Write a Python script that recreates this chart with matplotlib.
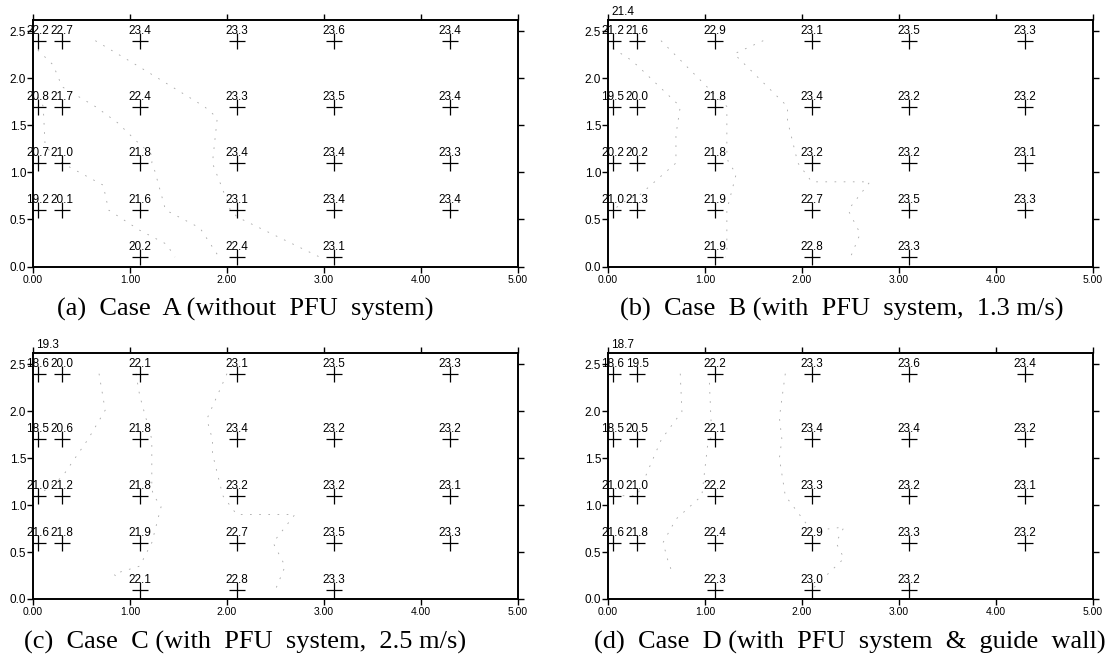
import matplotlib
matplotlib.use("Agg")
import matplotlib.pyplot as plt
import matplotlib.tri as mtri
import numpy as np

# measuring points (m)
x_pos = [0.05, 0.3, 1.1, 2.1, 3.1, 4.3]
y_pos = [2.4, 1.7, 1.1, 0.6, 0.1]   # rows, top to bottom

# temperature at each point, rows follow y_pos, None = no sensor
temp_a = [[22.2, 22.7, 23.4, 23.3, 23.6, 23.4],
          [20.8, 21.7, 22.4, 23.3, 23.5, 23.4],
          [20.7, 21.0, 21.8, 23.4, 23.4, 23.3],
          [19.2, 20.1, 21.6, 23.1, 23.4, 23.4],
          [None, None, 20.2, 22.4, 23.1, None]]
temp_b = [[21.2, 21.6, 22.9, 23.1, 23.5, 23.3],
          [19.5, 20.0, 21.8, 23.4, 23.2, 23.2],
          [20.2, 20.2, 21.8, 23.2, 23.2, 23.1],
          [21.0, 21.3, 21.9, 22.7, 23.5, 23.3],
          [None, None, 21.9, 22.8, 23.3, None]]
temp_c = [[18.6, 20.0, 22.1, 23.1, 23.5, 23.3],
          [18.5, 20.6, 21.8, 23.4, 23.2, 23.2],
          [21.0, 21.2, 21.8, 23.2, 23.2, 23.1],
          [21.6, 21.8, 21.9, 22.7, 23.5, 23.3],
          [None, None, 22.1, 22.8, 23.3, None]]
temp_d = [[18.6, 19.5, 22.2, 23.3, 23.6, 23.4],
          [18.5, 20.5, 22.1, 23.4, 23.4, 23.2],
          [21.0, 21.0, 22.2, 23.3, 23.2, 23.1],
          [21.6, 21.8, 22.4, 22.9, 23.3, 23.2],
          [None, None, 22.3, 23.0, 23.2, None]]

# outlet point above the grid (label only)
outlet_xy = (0.15, 2.6)
outlet_temp = [None, 21.4, 19.3, 18.7]

captions = ["(a)  Case  A (without  PFU  system)",
            "(b)  Case  B (with  PFU  system,  1.3 m/s)",
            "(c)  Case  C (with  PFU  system,  2.5 m/s)",
            "(d)  Case  D (with  PFU  system  &  guide  wall)"]

contour_levels = [21.0, 22.0, 23.0]

fig = plt.figure(figsize=(11.11, 6.55), dpi=100)

rects = [[0.0297, 0.5931, 0.4365, 0.3764],
         [0.5473, 0.5931, 0.4365, 0.3764],
         [0.0297, 0.0855, 0.4365, 0.3755],
         [0.5473, 0.0855, 0.4365, 0.3755]]
cap_x = [0.221, 0.758, 0.221, 0.765]
cap_y = [0.5176, 0.5176, 0.0092, 0.0092]

for k, temps in enumerate([temp_a, temp_b, temp_c, temp_d]):
    ax = fig.add_axes(rects[k])
    xs, ys, vs = [], [], []
    for i, row in enumerate(temps):
        for j, v in enumerate(row):
            if v is None:
                continue
            xs.append(x_pos[j]); ys.append(y_pos[i]); vs.append(v)

    # faint isotherms (barely visible in the scan)
    tri = mtri.Triangulation(xs, ys)
    ax.tricontour(tri, vs, levels=contour_levels, colors='0.65',
                  linewidths=0.6, linestyles=[(0, (2, 9))])

    ax.plot(xs, ys, '+', color='black', markersize=12, mew=0.9)
    for x, y, v in zip(xs, ys, vs):
        ax.annotate('%.1f' % v, (x, y), xytext=(0, 5), textcoords='offset points',
                    ha='center', va='baseline', fontsize=8.5,
                    family='Liberation Sans')
    if outlet_temp[k] is not None:
        ax.annotate('%.1f' % outlet_temp[k], outlet_xy, xytext=(0, 5),
                    textcoords='offset points', ha='center', va='baseline',
                    fontsize=8.5, family='Liberation Sans', annotation_clip=False)

    ax.set_xlim(0, 5)
    ax.set_ylim(0, 2.62)
    ax.set_xticks(np.arange(0, 5.01, 1.0))
    ax.set_xticklabels(['%.2f' % t for t in np.arange(0, 5.01, 1.0)])
    ax.set_yticks(np.arange(0, 2.51, 0.5))
    ax.set_yticklabels(['%.1f' % t for t in np.arange(0, 2.51, 0.5)])
    ax.tick_params(axis='y', which='both', direction='out', length=4, width=1,
                   left=True, right=True, labelsize=8.5, pad=1)
    ax.tick_params(axis='x', which='both', direction='in', length=4, width=1,
                   bottom=True, labelsize=7.5, pad=2)
    ax.tick_params(axis='x', top=True, direction='out')
    for lab in ax.get_xticklabels() + ax.get_yticklabels():
        lab.set_family('Liberation Sans')
    for sp in ax.spines.values():
        sp.set_linewidth(1.4)

    fig.text(cap_x[k], cap_y[k], captions[k],
             ha='center', va='baseline', fontsize=19, family='Liberation Serif')

fig.savefig('out.png', dpi=100)
